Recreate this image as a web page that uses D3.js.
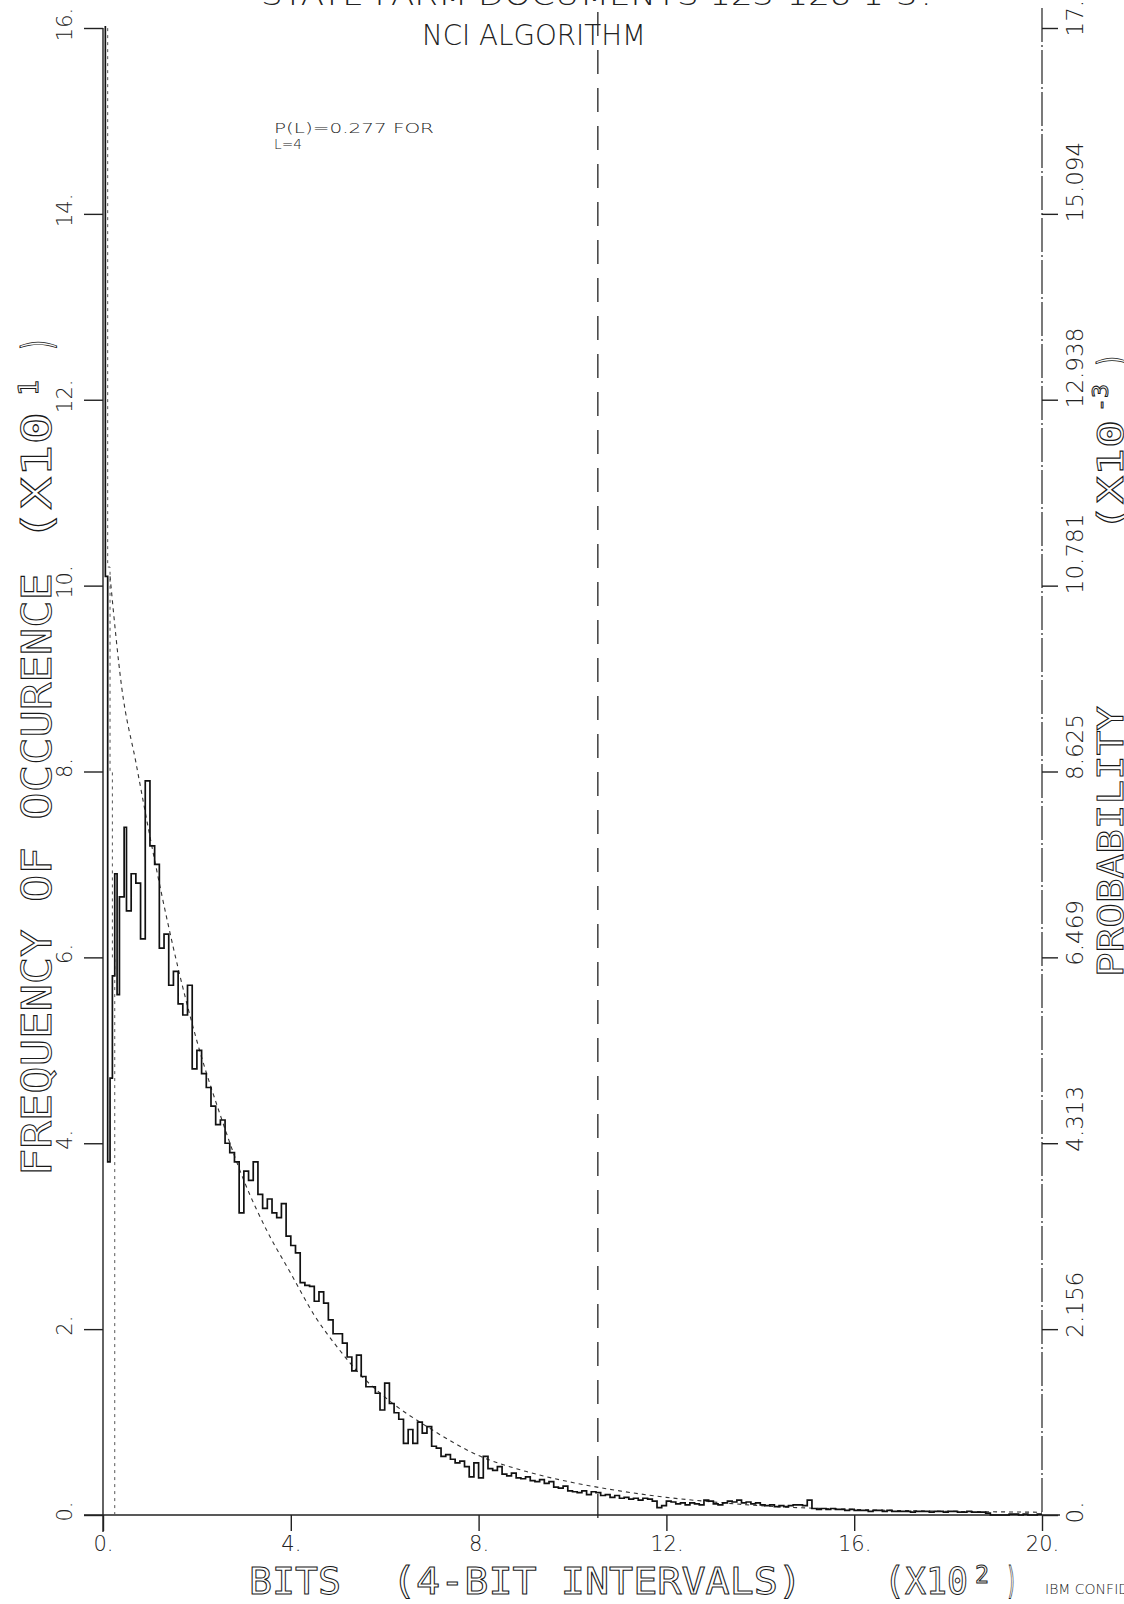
<!DOCTYPE html>
<html>
<head>
<meta charset="utf-8">
<script src="https://cdn.jsdelivr.net/npm/d3@7"></script>
<style>
  body { margin: 0; background: #fff; }
  .thin { font-family: "DejaVu Sans", sans-serif; font-weight: 200; fill: #222; }
  .outline { font-family: "DejaVu Sans Mono", "DejaVu Sans", monospace; fill: #fff; stroke: #1a1a1a; stroke-width: 1; }
  .axis path, .axis line { stroke: #222; stroke-width: 1.4; }
</style>
</head>
<body>
<svg id="chart" width="1124" height="1604"></svg>
<script>
'use strict';

/* frequency of run lengths, NCI algorithm (plotter output) */

// x axis: bits in hundreds
var xTicks = [0, 4, 8, 12, 16, 20];
var xTickLabels = ['0.', '4.', '8.', '12.', '16.', '20.'];

// left axis: frequency (x10)
var yTicks = [0, 2, 4, 6, 8, 10, 12, 14, 16];
var yTickLabels = ['0.', '2.', '4.', '6.', '8.', '10.', '12.', '14.', '16.'];

// right axis: probability (x10^-3)
var probTickLabels = ['0.', '2.156', '4.313', '6.469', '8.625', '10.781', '12.938', '15.094', '17.25'];
var probMax = 17.25;

// observed histogram, first part in 0.05 bins from 0 to 0.5
var headBin = 0.05;
var freqHead = [16.4, 10.1, 3.8, 4.7, 5.8, 6.9, 5.6, 6.65, 6.65, 7.4];

// rest of the histogram in 0.1 bins from 0.5 to 20
var bodyStart = 0.5;
var bodyBin = 0.1;
var freqBody = [
    6.5, 6.9, 6.8, 6.2, 7.9, 7.2, 7.0, 6.1, 6.25, 5.7,
    5.85, 5.5, 5.38, 5.7, 4.8, 5.0, 4.75, 4.6, 4.4, 4.2,
    4.25, 4.0, 3.9, 3.8, 3.25, 3.7, 3.6, 3.8, 3.45, 3.3,
    3.4, 3.25, 3.2, 3.35, 3.0, 2.9, 2.82, 2.5, 2.47, 2.46,
    2.3, 2.4, 2.28, 2.1, 1.95, 1.95, 1.85, 1.7, 1.55, 1.72,
    1.49, 1.38, 1.38, 1.31, 1.13, 1.42, 1.2, 1.1, 1.03, 0.77,
    0.92, 0.77, 1.0, 0.88, 0.95, 0.74, 0.72, 0.63, 0.65, 0.6,
    0.56, 0.58, 0.52, 0.41, 0.56, 0.40, 0.63, 0.50, 0.48, 0.52,
    0.44, 0.42, 0.45, 0.40, 0.39, 0.41, 0.37, 0.36, 0.38, 0.34,
    0.36, 0.30, 0.29, 0.31, 0.26, 0.25, 0.24, 0.26, 0.22, 0.25,
    0.24, 0.21, 0.22, 0.19, 0.21, 0.18, 0.19, 0.17, 0.18, 0.16,
    0.18, 0.17, 0.15, 0.08, 0.10, 0.15, 0.14, 0.12, 0.13, 0.11,
    0.13, 0.12, 0.11, 0.16, 0.15, 0.12, 0.11, 0.13, 0.15, 0.14,
    0.16, 0.13, 0.14, 0.12, 0.13, 0.11, 0.10, 0.11, 0.09, 0.10,
    0.09, 0.10, 0.11, 0.11, 0.10, 0.16, 0.07, 0.06, 0.07, 0.06,
    0.07, 0.06, 0.06, 0.05, 0.06, 0.05, 0.05, 0.05, 0.04, 0.05,
    0.05, 0.04, 0.05, 0.04, 0.04, 0.04, 0.04, 0.03, 0.04, 0.04,
    0.04, 0.03, 0.04, 0.04, 0.03, 0.04, 0.04, 0.03, 0.03, 0.04,
    0.03, 0.03, 0.03, 0.02, 0.0, 0.0, 0.0, 0.0, 0.01, 0.01,
    0.0, 0.01, 0.0, 0.0, 0.01
];

// dotted companion bars hugging the left axis
var dotBin = 0.05;
var freqDotted = [16.4, 16.4, 10.2, 8.0, 6.0, 0.0];

// fitted curve, read point by point
var fitX = [0.15, 0.4, 0.7, 1.0, 1.5, 2.0, 2.5, 3.0, 3.5, 4.0, 4.5, 5.0, 5.5, 6.0,
            7.0, 8.0, 9.0, 10.0, 11.0, 12.0, 13.0, 14.0, 16.0, 18.0, 20.0];
var fitY = [10.1, 8.9, 8.1, 7.3, 6.1, 5.1, 4.3, 3.6, 3.05, 2.6, 2.15, 1.8, 1.5, 1.27,
            0.92, 0.64, 0.47, 0.35, 0.26, 0.19, 0.14, 0.10, 0.06, 0.04, 0.03];

// the dashed marker line
var markerX = 10.54;

var svg = d3.select('#chart');

var x = d3.scaleLinear().domain([0, 20]).range([103, 1042]);
var y = d3.scaleLinear().domain([0, 16]).range([1515, 28]);
var yProb = d3.scaleLinear().domain([0, probMax]).range([1515, 28]);

//clip so the first bar stops at the top of the frame
svg.append('clipPath').attr('id', 'frame')
    .append('rect').attr('x', 0).attr('y', 26).attr('width', 1124).attr('height', 1580);

//axes
var xAxis = svg.append('g').attr('class', 'axis').attr('transform', 'translate(0,1515)')
    .call(d3.axisBottom(x).tickValues(xTicks).tickSize(16).tickSizeOuter(0)
        .tickFormat(function (d, i) { return xTickLabels[i]; }));
xAxis.select('.domain').attr('d', 'M84,0H1060');
xAxis.selectAll('text').attr('class', 'thin').attr('y', 36).attr('dy', 0)
    .style('font-size', '21px');

var yAxis = svg.append('g').attr('class', 'axis').attr('transform', 'translate(103,0)')
    .call(d3.axisLeft(y).tickValues(yTicks).tickSize(19).tickSizeOuter(0)
        .tickFormat(function (d, i) { return yTickLabels[i]; }));
yAxis.select('.domain').attr('d', 'M0,28V1532');
yAxis.selectAll('text').attr('class', 'thin')
    .attr('x', 0).attr('dy', 0)
    .attr('transform', 'translate(-31,-4) rotate(-90)')
    .attr('text-anchor', 'middle')
    .style('font-size', '21px');

var probTicks = probTickLabels.map(function (s) { return parseFloat(s); });
var rAxis = svg.append('g').attr('class', 'axis').attr('transform', 'translate(1042,0)')
    .call(d3.axisRight(yProb).tickValues(probTicks).tickSize(16).tickSizeOuter(0)
        .tickFormat(function (d, i) { return probTickLabels[i]; }));
rAxis.select('.domain').attr('d', 'M0,8V1515')
    .style('stroke-dasharray', '34,3,2,3').style('stroke-width', 1.2);
rAxis.selectAll('text').attr('class', 'thin')
    .attr('x', 0).attr('dy', 0)
    .attr('transform', 'translate(41,8) rotate(-90)')
    .attr('text-anchor', 'start')
    .style('font-size', '23px');

//dashed marker
svg.append('line')
    .attr('x1', x(markerX)).attr('x2', x(markerX))
    .attr('y1', 12).attr('y2', 1530)
    .style('stroke', '#222').style('stroke-width', 1.3)
    .style('stroke-dasharray', '24,14');

//fitted curve
var fitLine = d3.line()
    .x(function (d) { return x(d[0]); })
    .y(function (d) { return y(d[1]); })
    .curve(d3.curveMonotoneX);
svg.append('path')
    .datum(fitX.map(function (v, i) { return [v, fitY[i]]; }))
    .attr('d', fitLine)
    .style('fill', 'none').style('stroke', '#333').style('stroke-width', 1.1)
    .style('stroke-dasharray', '4,4');

//histograms as step lines
var step = d3.line()
    .x(function (d) { return x(d[0]); })
    .y(function (d) { return y(d[1]); })
    .curve(d3.curveStepAfter);

var dotted = freqDotted.map(function (v, i) { return [i * dotBin, v]; });
svg.append('path').datum(dotted).attr('d', step)
    .attr('clip-path', 'url(#frame)')
    .style('fill', 'none').style('stroke', '#555').style('stroke-width', 1)
    .style('stroke-dasharray', '3,4');

var hist = freqHead.map(function (v, i) { return [i * headBin, v]; })
    .concat(freqBody.map(function (v, i) { return [bodyStart + i * bodyBin, v]; }));
hist.push([20, freqBody[freqBody.length - 1]]);
svg.append('path').datum(hist).attr('d', step)
    .attr('clip-path', 'url(#frame)')
    .style('fill', 'none').style('stroke', '#111').style('stroke-width', 1.7)
    .style('stroke-linejoin', 'miter');

//texts
function addText(str, px, py, len, size, cls, rotate) {
    var t = svg.append('text').attr('class', cls)
        .attr('transform', 'translate(' + px + ',' + py + ')' + (rotate ? ' rotate(-90)' : ''))
        .style('font-size', size + 'px')
        .text(str);
    if (len) { t.attr('textLength', len).attr('lengthAdjust', 'spacingAndGlyphs'); }
    return t;
}

//header, the first line is cut by the page edge
addText('STATE FARM DOCUMENTS 123-128 1-3?', 261, 5, 675, 28, 'thin');
addText('NCI ALGORITHM', 422, 45, 224, 28, 'thin');
addText('P(L)=0.277 FOR', 274, 133, 160, 14, 'thin');
addText('L=4', 274, 149, 28, 14, 'thin');

//x title
addText('BITS', 249, 1594, 92, 37, 'outline');
addText('(4-BIT INTERVALS)', 392, 1594, 410, 37, 'outline');
addText('(X10', 884, 1594, 84, 37, 'outline');
addText('2', 975, 1583, 14, 24, 'outline');
addText(')', 1006, 1594, 11, 37, 'outline');
addText('IBM CONFIDENTIAL', 1045, 1594, null, 14, 'thin');

//left title, reads bottom to top
addText('FREQUENCY OF OCCURENCE', 51, 1176, 603, 40, 'outline', true);
addText('(X10', 51, 542, 130, 40, 'outline', true);
addText('1', 38, 396, 16, 26, 'outline', true);
addText(')', 51, 352, 15, 40, 'outline', true);

//right title
addText('PROBABILITY', 1123, 977, 271, 36, 'outline', true);
addText('(X10', 1123, 532, 112, 36, 'outline', true);
addText('-3', 1108, 412, 28, 22, 'outline', true);
addText(')', 1123, 368, 15, 36, 'outline', true);
</script>
</body>
</html>
